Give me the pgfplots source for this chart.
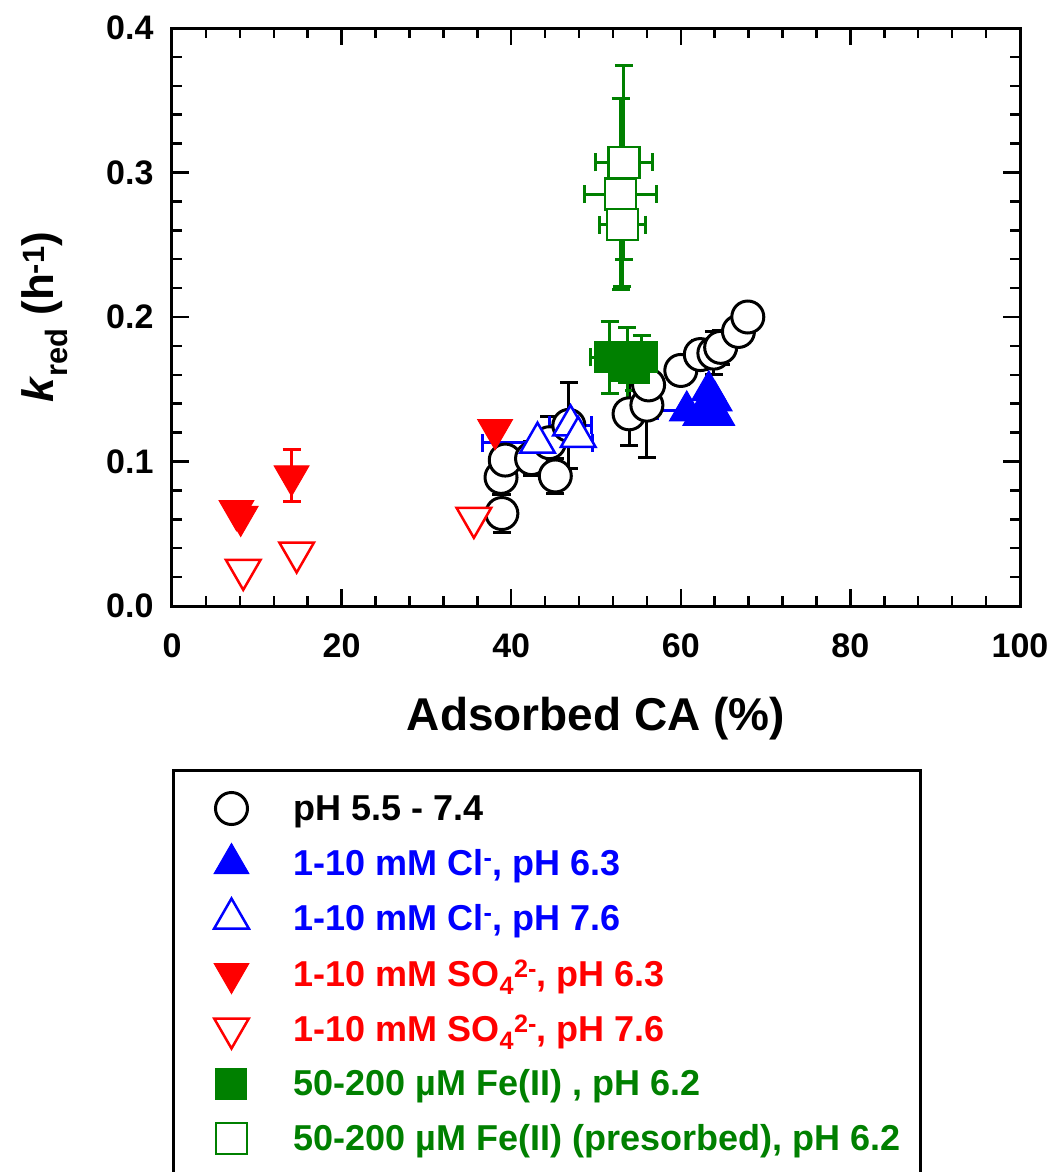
\documentclass[border=0pt]{standalone}
\usepackage{fontspec}
\setmainfont{Liberation Sans}
\usepackage{pgfplots}
\pgfplotsset{compat=1.18}
\usepackage{pgfplotstable}
\definecolor{cgreen}{RGB}{0,128,0}

\pgfplotstableread{
x y ey
38.9 0.064 0.013
38.8 0.089 0.012
39.3 0.101 0.012
42.4 0.102 0.012
45.2 0.090 0.012
44.5 0.113 0.018
46.8 0.125 0.030
53.9 0.133 0.022
56.0 0.139 0.036
56.2 0.153 0.020
60.0 0.163 0.010
62.3 0.174 0.010
63.9 0.175 0.015
64.7 0.179 0.012
66.8 0.190 0.008
67.9 0.200 0.005
}\circles

\pgfplotstableread{
x y ex
60.7 0.135 3.5
}\bluefillx
\pgfplotstableread{
x y
63.3 0.149
64.0 0.142
62.3 0.132
64.3 0.132
}\bluefill

\pgfplotstableread{
x y ex
43.1 0.113 6.5
47.0 0.125 2.5
}\blueopenx
\pgfplotstableread{
x y
47.9 0.117
}\blueopen

\pgfplotstableread{
x y ey
7.6 0.066 0
8.1 0.062 0
14.1 0.090 0.018
38.1 0.122 0
}\redfill
\pgfplotstableread{
x y
8.4 0.025
14.7 0.037
35.6 0.061
}\redopen

\pgfplotstableread{
x y ex ey
51.6 0.172 2.3 0.025
}\greenfillx
\pgfplotstableread{
x y ey
53.7 0.166 0.027
55.4 0.172 0.015
54.5 0.165 0.016
}\greenfill

\pgfplotstableread{
x y ex ey
53.3 0.307 3.4 0.067
52.9 0.285 4.2 0.066
53.1 0.264 2.7 0.043
}\greenopen

\begin{document}
\begin{tikzpicture}
\begin{axis}[
  scale only axis, width=848pt, height=578pt,
  at={(0pt,0pt)}, anchor=south west,
  xmin=0, xmax=100, ymin=0, ymax=0.4,
  xtick={0,20,40,60,80,100}, ytick={0,0.1,0.2,0.3,0.4},
  minor x tick num=4, minor y tick num=4,
  tick align=inside, major tick length=17pt, minor tick length=10pt,
  axis line style={line width=3pt},
  tick style={line width=2.5pt, black},
  /pgf/number format/assume math mode=true,
  tick label style={font=\bfseries\fontsize{34}{40}\selectfont},
  yticklabel style={/pgf/number format/.cd, fixed, fixed zerofill, precision=1, /tikz/.cd, xshift=-15pt},
  xticklabel style={yshift=-24pt},
  xlabel={\bfseries Adsorbed CA (\%)},
  xlabel style={font=\fontsize{46}{54}\selectfont, at={(axis description cs:0.5,-0.194)}, anchor=center},
  ylabel={\bfseries\textit{k}\textsubscript{red} (h\textsuperscript{-1})},
  ylabel style={font=\fontsize{44}{52}\selectfont, at={(axis description cs:-0.150,0.5)}, anchor=center},
  legend cell align=left,
  legend image code/.code={\draw[#1] plot coordinates {(0pt,0pt)}; \path[draw=none, fill=none] (-40pt,-20pt) rectangle (20pt,20pt);},
  legend style={at={(axis description cs:0,-0.282)}, anchor=north west, draw=black, line width=3pt,
    font=\bfseries\fontsize{36}{43}\selectfont, inner xsep=18pt, inner ysep=18pt, row sep=15pt,
    column sep=40pt},
]
% pH series
\addplot[only marks, mark=*, mark size=16pt, mark options={draw=black, fill=white, line width=3pt},
  error bars/.cd, y dir=both, y explicit,
  error bar style={line width=3pt, black},
  error mark options={rotate=90, mark size=9pt, line width=3pt, black}]
  table[x=x, y=y, y error=ey]{\circles};
\addlegendentry{pH 5.5 - 7.4}
% blue filled
\addplot[forget plot, only marks, mark=triangle*, mark size=20pt, mark options={draw=blue, fill=blue, line width=1pt},
  error bars/.cd, x dir=both, x explicit,
  error bar style={line width=3pt, blue},
  error mark options={rotate=90, mark size=9pt, line width=3pt, blue}]
  table[x=x, y=y, x error=ex]{\bluefillx};
\addplot[only marks, mark=triangle*, mark size=20pt, mark options={draw=blue, fill=blue, line width=1pt}]
  table[x=x, y=y]{\bluefill};
\addlegendentry{\textcolor{blue}{1-10 mM Cl\textsuperscript{-}, pH 6.3}}
% blue open
\addplot[forget plot, only marks, mark=triangle*, mark size=20pt, mark options={draw=blue, fill=white, line width=2.5pt},
  error bars/.cd, x dir=both, x explicit,
  error bar style={line width=3pt, blue},
  error mark options={rotate=90, mark size=9pt, line width=3pt, blue}]
  table[x=x, y=y, x error=ex]{\blueopenx};
\addplot[only marks, mark=triangle*, mark size=20pt, mark options={draw=blue, fill=white, line width=2.5pt}]
  table[x=x, y=y]{\blueopen};
\addlegendentry{\textcolor{blue}{1-10 mM Cl\textsuperscript{-}, pH 7.6}}
% red filled
\addplot[only marks, mark=triangle*, mark size=20pt, mark options={draw=red, fill=red, line width=1pt, rotate=180},
  error bars/.cd, y dir=both, y explicit,
  error bar style={line width=3pt, red},
  error mark options={rotate=90, mark size=9pt, line width=3pt, red}]
  table[x=x, y=y, y error=ey]{\redfill};
\addlegendentry{\textcolor{red}{1-10 mM SO\textsubscript{4}\textsuperscript{2-}, pH 6.3}}
% red open
\addplot[only marks, mark=triangle*, mark size=20pt, mark options={draw=red, fill=white, line width=2.5pt, rotate=180}]
  table[x=x, y=y]{\redopen};
\addlegendentry{\textcolor{red}{1-10 mM SO\textsubscript{4}\textsuperscript{2-}, pH 7.6}}
% green filled
\addplot[forget plot, only marks, mark=square*, mark size=15.5pt, mark options={draw=cgreen, fill=cgreen, line width=1pt},
  error bars/.cd, x dir=both, x explicit, y dir=both, y explicit,
  error bar style={line width=3pt, cgreen},
  error mark options={rotate=90, mark size=9pt, line width=3pt, cgreen}]
  table[x=x, y=y, x error=ex, y error=ey]{\greenfillx};
\addplot[only marks, mark=square*, mark size=15.5pt, mark options={draw=cgreen, fill=cgreen, line width=1pt},
  error bars/.cd, y dir=both, y explicit,
  error bar style={line width=3pt, cgreen},
  error mark options={rotate=90, mark size=9pt, line width=3pt, cgreen}]
  table[x=x, y=y, y error=ey]{\greenfill};
\addlegendentry{\textcolor{cgreen}{50-200 µM Fe(II) , pH 6.2}}
% green open
\addplot[only marks, mark=square*, mark size=15.5pt, mark options={draw=cgreen, fill=white, line width=2.5pt},
  error bars/.cd, x dir=both, x explicit, y dir=both, y explicit,
  error bar style={line width=3pt, cgreen},
  error mark options={rotate=90, mark size=9pt, line width=3pt, cgreen}]
  table[x=x, y=y, x error=ex, y error=ey]{\greenopen};
\addlegendentry{\textcolor{cgreen}{50-200 µM Fe(II) (presorbed), pH 6.2}}
\end{axis}
\pgfresetboundingbox
\useasboundingbox (-172pt,-566pt) rectangle (878pt,606pt);
\end{tikzpicture}
\end{document}
